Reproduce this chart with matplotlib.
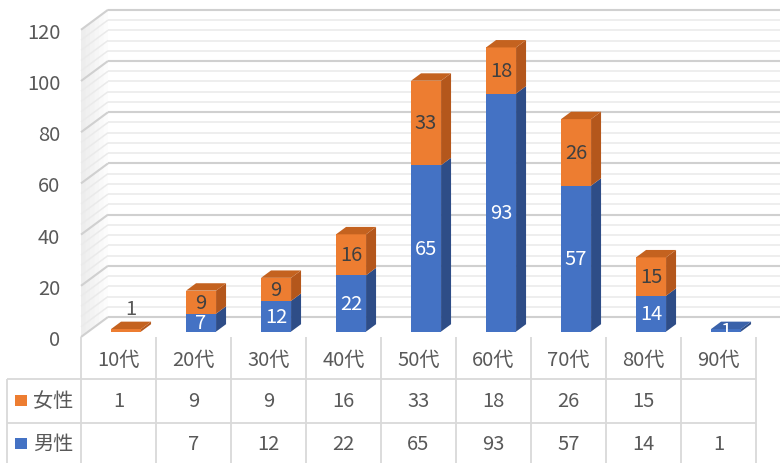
import matplotlib
matplotlib.use("Agg")
import matplotlib.pyplot as plt
from matplotlib.patches import Polygon, Rectangle
import numpy as np

plt.rcParams['font.family'] = ['Noto Sans CJK JP', 'DejaVu Sans']

# ---- data ----
categories = ['10代', '20代', '30代', '40代', '50代', '60代', '70代', '80代', '90代']
female = [1, 9, 9, 16, 33, 18, 26, 15, None]
male = [None, 7, 12, 22, 65, 93, 57, 14, 1]
series_names = ['女性', '男性']
y_ticks = [0, 20, 40, 60, 80, 100, 120]

# ---- style ----
ORANGE = '#ED7D31'
ORANGE_SIDE = '#B4571C'
ORANGE_TOP = '#C4621F'
BLUE = '#4472C4'
BLUE_SIDE = '#2E4D87'
BLUE_TOP = '#3A62AA'
TEXT = '#595959'
GRID_MAJOR = '#D0D0D0'
GRID_MINOR = '#EAEAEA'
TABLE_LINE = '#D9D9D9'
FS = 14.5

W, H = 780, 464
fig = plt.figure(figsize=(W / 100, H / 100), dpi=100)
fig.patch.set_facecolor('white')

PX_PER_UNIT = 2.56
PX_PER_CAT = 75.0
floor_px = 338
left_px, right_px = 81, 756

ax = fig.add_axes([left_px / W, (H - floor_px) / H,
                   (right_px - left_px) / W, floor_px / H])
ax.set_xlim(-0.5, len(categories) - 0.5)
ax.set_ylim(0, floor_px / PX_PER_UNIT)
ax.set_facecolor('none')
for s in ax.spines.values():
    s.set_visible(False)
ax.set_xticks([])
ax.set_yticks(y_ticks)
ax.set_yticklabels([str(v) for v in y_ticks], color=TEXT, fontsize=FS)
ax.tick_params(axis='y', length=0, pad=15)

# oblique depth of the walls, in data units
WALL_DX = 27 / PX_PER_CAT
WALL_DY = 20 / PX_PER_UNIT
x_left = -0.5
x_right = len(categories) - 0.5

# soft shading on the side wall
for k in range(6):
    t = k / 6
    ax.fill([x_left + WALL_DX * t, x_left + WALL_DX * (t + 1 / 6),
             x_left + WALL_DX * (t + 1 / 6), x_left + WALL_DX * t],
            [WALL_DY * t, WALL_DY * (t + 1 / 6), 120 + WALL_DY * (t + 1 / 6), 120 + WALL_DY * t],
            color='#000000', alpha=0.012 * (6 - k), lw=0, zorder=0.5, clip_on=False)

# side wall diagonals and back wall gridlines
for v in range(0, 121, 4):
    major = v % 20 == 0
    c = GRID_MAJOR if major else GRID_MINOR
    lw = 1.5 if major else 1.1
    z = 1.2 if major else 1.0
    ax.plot([x_left, x_left + WALL_DX], [v, v + WALL_DY], color=c, lw=lw,
            zorder=z, clip_on=False, solid_capstyle='butt')
    ax.plot([x_left + WALL_DX, x_right + WALL_DX + 0.2], [v + WALL_DY] * 2,
            color=c, lw=lw, zorder=z, clip_on=False, solid_capstyle='butt')

# bars: front faces through ax.bar, side and top faces as polygons
bx, by = WALL_DX * 0.28, WALL_DY * 0.27
ddx, ddy = WALL_DX * 0.37, WALL_DY * 0.37
width = 0.4
xpos = np.arange(len(categories)) + bx
m_vals = np.array([v if v is not None else 0 for v in male], dtype=float)
f_vals = np.array([v if v is not None else 0 for v in female], dtype=float)

ax.bar(xpos, m_vals, width, bottom=by, color=BLUE, zorder=3, linewidth=0)
ax.bar(xpos, f_vals, width, bottom=by + m_vals, color=ORANGE, zorder=3, linewidth=0)


def faces(x, y0, y1, side_c, top_c, top):
    x0, x1 = x - width / 2, x + width / 2
    ax.add_patch(Polygon([(x1, y0), (x1 + ddx, y0 + ddy), (x1 + ddx, y1 + ddy), (x1, y1)],
                         closed=True, facecolor=side_c, edgecolor='none', zorder=3))
    if top:
        ax.add_patch(Polygon([(x0, y1), (x1, y1), (x1 + ddx, y1 + ddy), (x0 + ddx, y1 + ddy)],
                             closed=True, facecolor=top_c, edgecolor='none', zorder=3))


for i, x in enumerate(xpos):
    m, f = m_vals[i], f_vals[i]
    if m > 0:
        faces(x, by, by + m, BLUE_SIDE, BLUE_TOP, top=(f == 0))
        ax.text(x, by + m / 2, f'{int(m)}', ha='center', va='center',
                color='white', fontsize=FS, zorder=5)
    if f > 0:
        faces(x, by + m, by + m + f, ORANGE_SIDE, ORANGE_TOP, top=True)
        if f >= 5:
            ax.text(x, by + m + f / 2, f'{int(f)}', ha='center', va='center',
                    color='#404040', fontsize=FS, zorder=5)
        else:
            ax.text(x + ddx / 2, by + m + f + 8, f'{int(f)}', ha='center', va='center',
                    color=TEXT, fontsize=FS, zorder=5)

# ---- data table ----
table_h = 128
tax = fig.add_axes([left_px / W, (H - floor_px - table_h) / H,
                    (right_px - left_px) / W, table_h / H])
tax.set_xlim(ax.get_xlim())
tax.set_ylim(table_h, 0)
tax.axis('off')

legend_left = x_left - 74 / PX_PER_CAT
row_lines = [41.5, 86]
row_centers = [22.5, 63.5, 106.5]

for k in range(len(categories) + 1):
    tax.plot([x_left + k, x_left + k], [0, table_h], color=TABLE_LINE, lw=1.3,
             clip_on=False, solid_capstyle='butt')
tax.plot([legend_left, legend_left], [row_lines[0], table_h], color=TABLE_LINE,
         lw=1.3, clip_on=False, solid_capstyle='butt')
for ry in row_lines:
    tax.plot([legend_left, x_right], [ry, ry], color=TABLE_LINE, lw=1.3,
             clip_on=False, solid_capstyle='butt')

for i, cat in enumerate(categories):
    tax.text(i, row_centers[0], cat, ha='center', va='center', color=TEXT, fontsize=FS)
    if female[i] is not None:
        tax.text(i, row_centers[1], str(female[i]), ha='center', va='center',
                 color=TEXT, fontsize=FS)
    if male[i] is not None:
        tax.text(i, row_centers[2], str(male[i]), ha='center', va='center',
                 color=TEXT, fontsize=FS)

sq_w = 12 / PX_PER_CAT
sq_x = legend_left + 8 / PX_PER_CAT
for name, col, yc in zip(series_names, [ORANGE, BLUE], row_centers[1:]):
    tax.add_patch(Rectangle((sq_x, yc - 5.5), sq_w, 11, facecolor=col,
                            edgecolor='none', clip_on=False))
    tax.text(sq_x + sq_w + 6 / PX_PER_CAT, yc, name, ha='left', va='center',
             color=TEXT, fontsize=FS)

fig.savefig('out.png', dpi=100)
